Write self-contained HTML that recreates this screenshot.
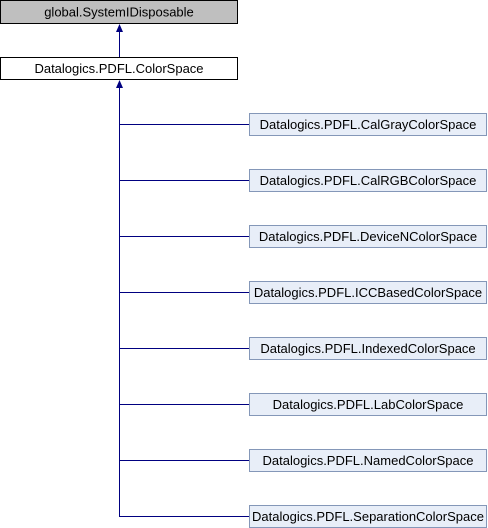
<!DOCTYPE html>
<html><head><style>body{margin:0;background:#fff}svg{display:block}text{font-family:"Liberation Sans",Arial,sans-serif;font-size:13px;fill:#000}</style></head><body>
<svg width="488" height="528" xmlns="http://www.w3.org/2000/svg">
<rect x="0.5" y="0.5" width="237" height="23" fill="#bfbfbf" stroke="#000"/>
<text x="119" y="16.5" text-anchor="middle">global.SystemIDisposable</text>
<rect x="0.5" y="57.5" width="237" height="22" fill="#fff" stroke="#000"/>
<text x="119" y="73" text-anchor="middle">Datalogics.PDFL.ColorSpace</text>
<line x1="119.5" y1="57" x2="119.5" y2="30" stroke="#000080"/>
<polygon points="119.5,24 116,32 123,32" fill="#000080"/>
<line x1="119.5" y1="516.5" x2="119.5" y2="86" stroke="#000080"/>
<polygon points="119.5,80 116,88 123,88" fill="#000080"/>
<g stroke="#000080">
<line x1="119" y1="124.5" x2="249" y2="124.5"/>
<line x1="119" y1="180.5" x2="249" y2="180.5"/>
<line x1="119" y1="236.5" x2="249" y2="236.5"/>
<line x1="119" y1="292.5" x2="249" y2="292.5"/>
<line x1="119" y1="348.5" x2="249" y2="348.5"/>
<line x1="119" y1="404.5" x2="249" y2="404.5"/>
<line x1="119" y1="460.5" x2="249" y2="460.5"/>
<line x1="119" y1="516.5" x2="249" y2="516.5"/>
</g>
<g fill="#e8eef8" stroke="#8497b8">
<rect x="249.5" y="113.5" width="237" height="22"/>
<rect x="249.5" y="169.5" width="237" height="22"/>
<rect x="249.5" y="225.5" width="237" height="22"/>
<rect x="249.5" y="281.5" width="237" height="22"/>
<rect x="249.5" y="337.5" width="237" height="22"/>
<rect x="249.5" y="393.5" width="237" height="22"/>
<rect x="249.5" y="449.5" width="237" height="22"/>
<rect x="249.5" y="505.5" width="237" height="22"/>
</g>
<g text-anchor="middle">
<text x="368" y="129">Datalogics.PDFL.CalGrayColorSpace</text>
<text x="368" y="185">Datalogics.PDFL.CalRGBColorSpace</text>
<text x="368" y="241">Datalogics.PDFL.DeviceNColorSpace</text>
<text x="368" y="297">Datalogics.PDFL.ICCBasedColorSpace</text>
<text x="368" y="353">Datalogics.PDFL.IndexedColorSpace</text>
<text x="368" y="409">Datalogics.PDFL.LabColorSpace</text>
<text x="368" y="465">Datalogics.PDFL.NamedColorSpace</text>
<text x="368" y="521">Datalogics.PDFL.SeparationColorSpace</text>
</g>
</svg>
</body></html>
